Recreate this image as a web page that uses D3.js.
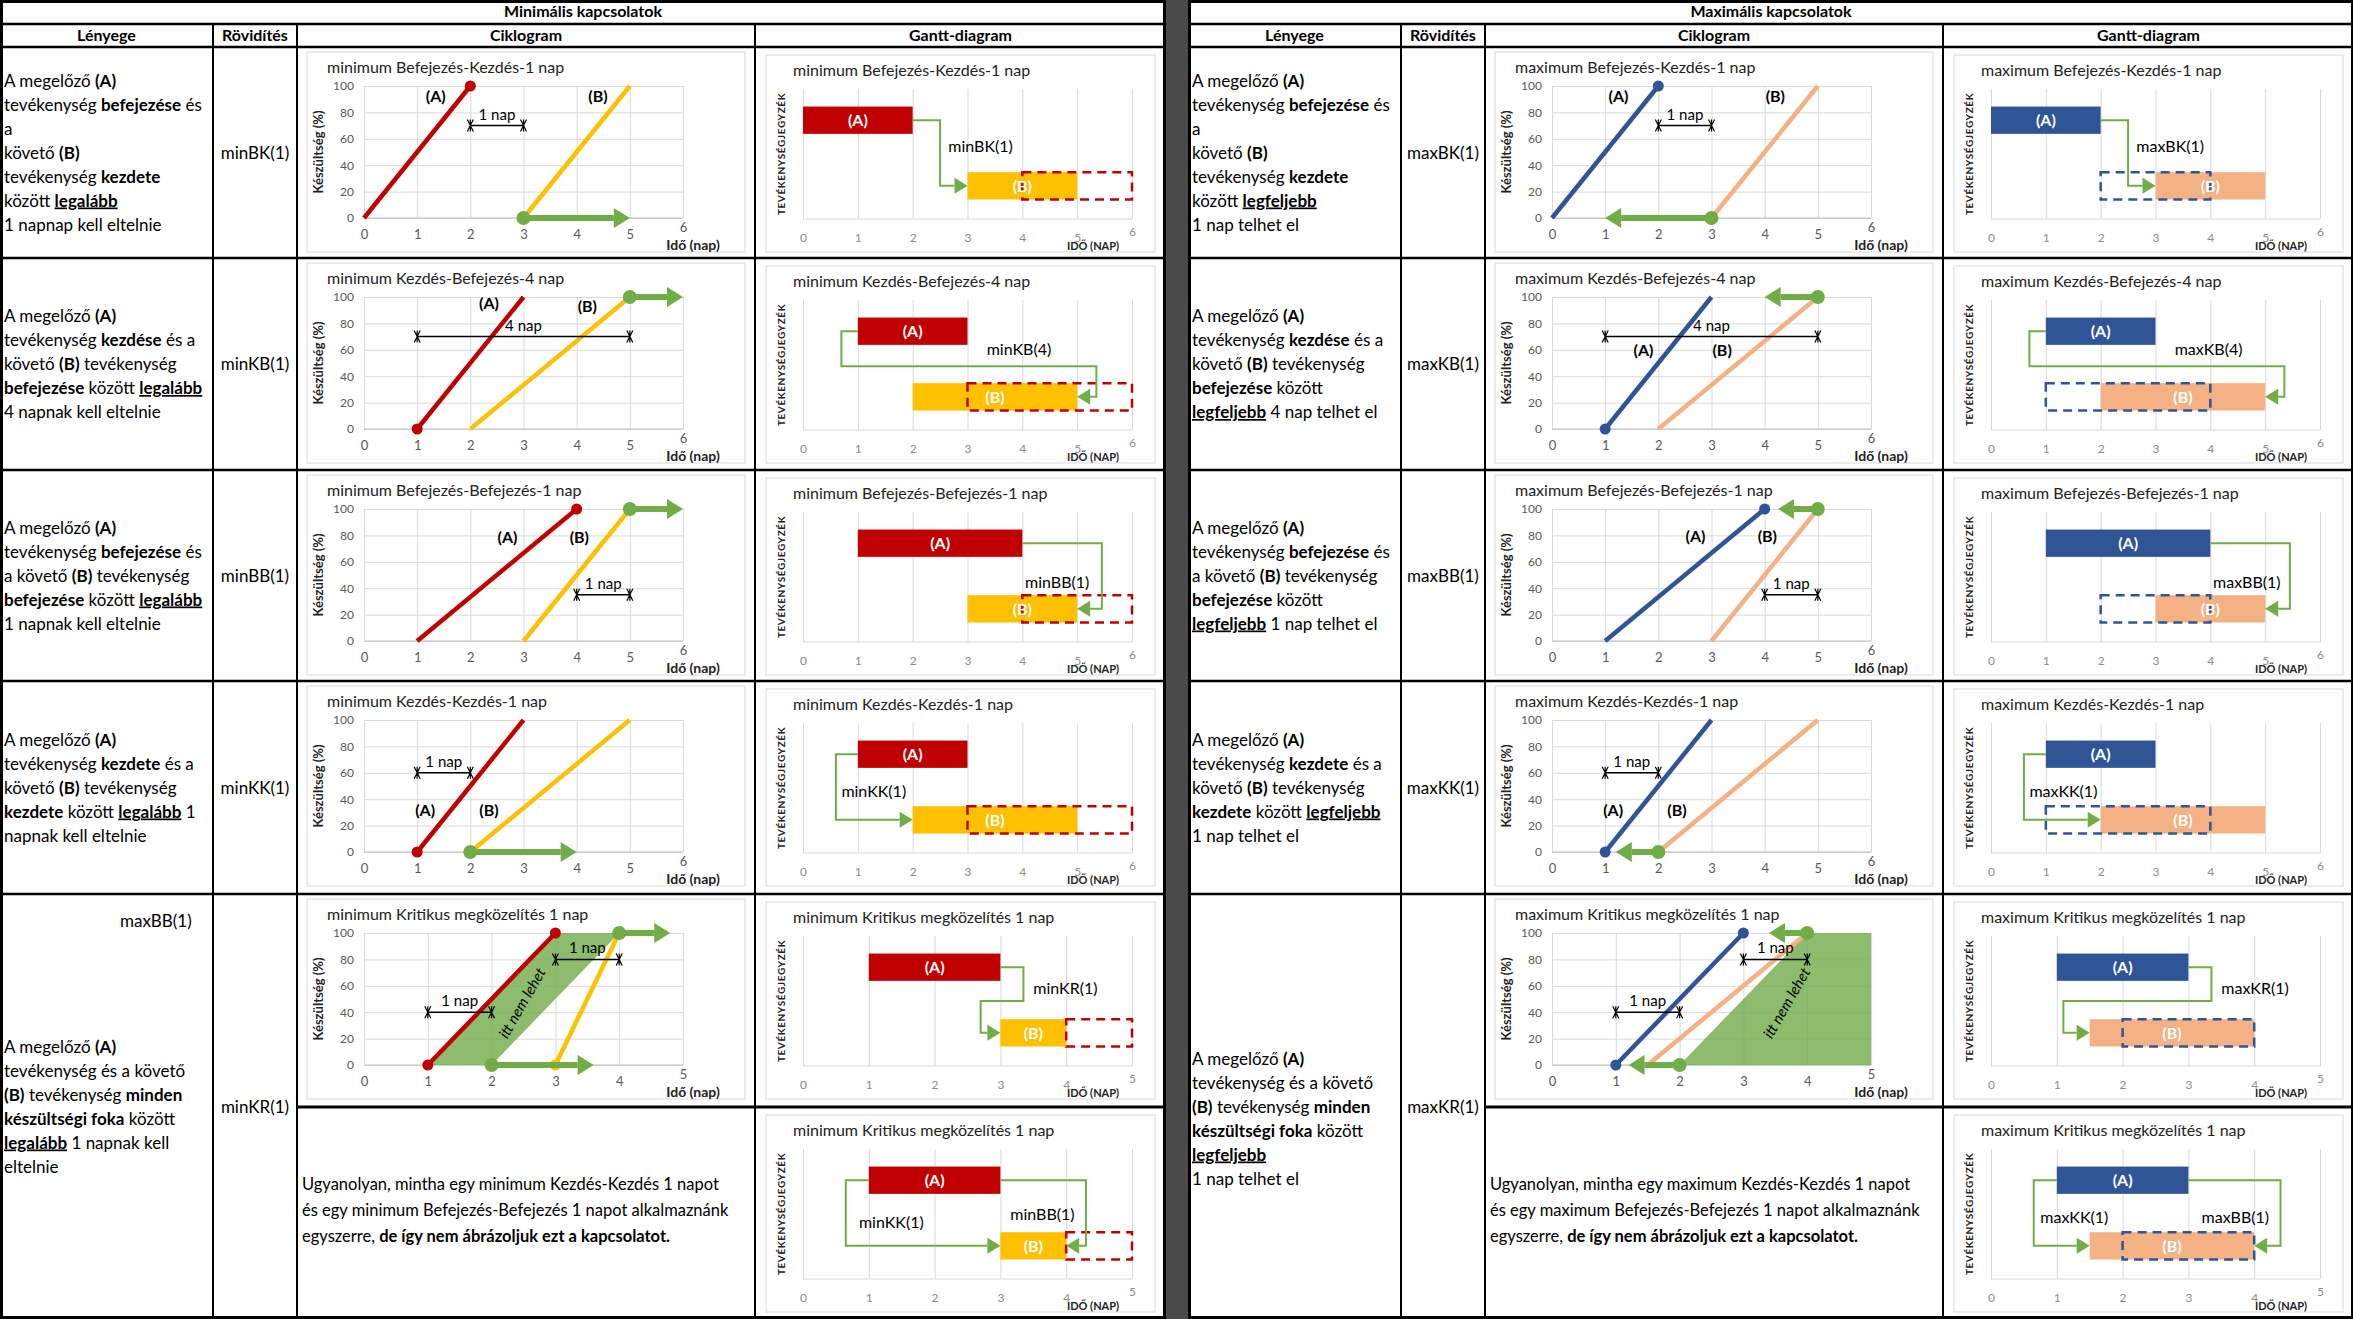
<!DOCTYPE html>
<html><head><meta charset="utf-8">
<script src="https://cdn.jsdelivr.net/npm/d3@7"></script>
<style>
body{margin:0;background:#fff;}
text{font-family:Lato,"Open Sans",sans-serif;}
</style></head>
<body><div id="vis"></div>
<script>
// ---- data ----
var sideTitles = ["Minimális kapcsolatok", "Maximális kapcsolatok"];
var headers = ["Lényege", "Rövidítés", "Ciklogram", "Gantt-diagram"];
var abbrevs = [["minBK(1)", "minKB(1)", "minBB(1)", "minKK(1)", "minKR(1)"],
               ["maxBK(1)", "maxKB(1)", "maxBB(1)", "maxKK(1)", "maxKR(1)"]];
var descriptions = [[
  ["A megelőző **(A)**", "tevékenység **befejezése** és", "a", "követő **(B)**", "tevékenység **kezdete**", "között __legalább__", "1 napnap kell eltelnie"],
  ["A megelőző **(A)**", "tevékenység **kezdése** és a", "követő **(B)** tevékenység", "**befejezése** között __legalább__", "4 napnak kell eltelnie"],
  ["A megelőző **(A)**", "tevékenység **befejezése** és", "a követő **(B)** tevékenység", "**befejezése** között __legalább__", "1 napnak kell eltelnie"],
  ["A megelőző **(A)**", "tevékenység **kezdete** és a", "követő **(B)** tevékenység", "**kezdete** között __legalább__ 1", "napnak kell eltelnie"],
  ["A megelőző **(A)**", "tevékenység és a követő", "**(B)** tevékenység **minden**", "**készültségi foka** között", "__legalább__ 1 napnak kell", "eltelnie"]
], [
  ["A megelőző **(A)**", "tevékenység **befejezése** és", "a", "követő **(B)**", "tevékenység **kezdete**", "között __legfeljebb__", "1 nap telhet el"],
  ["A megelőző **(A)**", "tevékenység **kezdése** és a", "követő **(B)** tevékenység", "**befejezése** között", "__legfeljebb__ 4 nap telhet el"],
  ["A megelőző **(A)**", "tevékenység **befejezése** és", "a követő **(B)** tevékenység", "**befejezése** között", "__legfeljebb__ 1 nap telhet el"],
  ["A megelőző **(A)**", "tevékenység **kezdete** és a", "követő **(B)** tevékenység", "**kezdete** között __legfeljebb__", "1 nap telhet el"],
  ["A megelőző **(A)**", "tevékenység és a követő", "**(B)** tevékenység **minden**", "**készültségi foka** között", "__legfeljebb__", "1 nap telhet el"]
]];
var sameAsText = [
  ["Ugyanolyan, mintha egy minimum Kezdés-Kezdés 1 napot", "és egy minimum Befejezés-Befejezés 1 napot alkalmaznánk", "egyszerre, **de így nem ábrázoljuk ezt a kapcsolatot.**"],
  ["Ugyanolyan, mintha egy maximum Kezdés-Kezdés 1 napot", "és egy maximum Befejezés-Befejezés 1 napot alkalmaznánk", "egyszerre, **de így nem ábrázoljuk ezt a kapcsolatot.**"]
];
var relNames = ["Befejezés-Kezdés-1 nap", "Kezdés-Befejezés-4 nap", "Befejezés-Befejezés-1 nap", "Kezdés-Kezdés-1 nap", "Kritikus megközelítés 1 nap", "Kritikus megközelítés 1 nap"];
var sidePrefix = ["minimum ", "maximum "];
var colorA = ["#C00000", "#2F5597"];
var colorB = ["#FFC000", "#F4B183"];
var green = "#70AD47";

// ciklogram (per side, per row)
var cycloMax = [6, 6, 6, 6, 5];
var lineA = [[[0, 2], [1, 3], [1, 4], [1, 3], [1, 3]], [[0, 2], [1, 3], [1, 4], [1, 3], [1, 3]]];
var lineB = [[[3, 5], [2, 5], [3, 5], [2, 5], [3, 4]], [[3, 5], [2, 5], [3, 5], [2, 5], [1.5, 4]]];
var dotsA = [[["end"], ["start"], ["end"], ["start"], ["start", "end"]], [["end"], ["start"], ["end"], ["start"], ["start", "end"]]];
var dotsB = [[[], [], [], [], ["start"]], [[], [], [], [], []]];
// green arrows: [from(dot), to(head), progress]
var greenArrows = [
  [[[3, 5, 0]], [[5, 6, 100]], [[5, 6, 100]], [[2, 4, 0]], [[2, 3.6, 0], [4, 4.8, 100]]],
  [[[3, 1, 0]], [[5, 4, 100]], [[5, 4.25, 100]], [[2, 1.2, 0]], [[2, 1.2, 0], [4, 3.4, 100]]]
];
// brackets: [x0, x1, progress]
var brackets = [
  [[[2, 3, 70]], [[1, 5, 70]], [[4, 5, 35]], [[1, 2, 60]], [[1, 2, 40], [3, 4, 80]]],
  [[[2, 3, 70]], [[1, 5, 70]], [[4, 5, 35]], [[1, 2, 60]], [[1, 2, 40], [3, 4, 80]]]
];
var bracketLabels = [["1 nap", "4 nap", "1 nap", "1 nap", "1 nap"], ["1 nap", "4 nap", "1 nap", "1 nap", "1 nap"]];
// (A),(B) label anchors
var abLabels = [
  [[[1.35, 88], [4.4, 88]], [[2.35, 91], [4.2, 89]], [[2.7, 74], [4.05, 74]], [[1.15, 27], [2.35, 27]], []],
  [[[1.25, 88], [4.2, 88]], [[1.72, 55], [3.2, 55]], [[2.7, 75], [4.05, 75]], [[1.15, 27], [2.35, 27]], []]
];
var forbiddenZones = [
  [null, null, null, null, [[1, 0], [3, 100], [4, 100], [2, 0]]],
  [null, null, null, null, [[2, 0], [4, 100], [5, 100], [5, 0]]]
];
var zoneText = [[null, null, null, null, [2.55, 45]], [null, null, null, null, [3.75, 45]]];

// gantt (per side, 6 charts)
var ganttMax = [6, 6, 6, 6, 5, 5];
var barA = [[[0, 2], [1, 3], [1, 4], [1, 3], [1, 3], [1, 3]], [[0, 2], [1, 3], [1, 4], [1, 3], [1, 3], [1, 3]]];
var barB = [[[3, 5], [2, 5], [3, 5], [2, 5], [3, 4], [3, 4]], [[3, 5], [2, 5], [3, 5], [2, 5], [1.5, 4], [1.5, 4]]];
var barBDashed = [[[4, 6], [3, 6], [4, 6], [3, 6], [4, 5], [4, 5]], [[2, 4], [1, 4], [2, 4], [1, 4], [2, 4], [2, 4]]];
// link points: [time, level] with level "A", "B" or a fraction of plot height
var links = [[
  [[[2, "A"], [2.5, "A"], [2.5, "B"], [3, "B"]]],
  [[[1, "A"], [0.7, "A"], [0.7, 0.51], [5.35, 0.51], [5.35, "B"], [5, "B"]]],
  [[[4, "A"], [5.45, "A"], [5.45, "B"], [5, "B"]]],
  [[[1, "A"], [0.6, "A"], [0.6, "B"], [2, "B"]]],
  [[[3, "A"], [3.35, "A"], [3.35, 0.5], [2.7, 0.5], [2.7, "B"], [3, "B"]]],
  [[[1, "A"], [0.65, "A"], [0.65, "B"], [3, "B"]], [[3, "A"], [4.3, "A"], [4.3, "B"], [4, "B"]]]
], [
  [[[2, "A"], [2.5, "A"], [2.5, "B"], [3, "B"]]],
  [[[1, "A"], [0.7, "A"], [0.7, 0.51], [5.35, 0.51], [5.35, "B"], [5, "B"]]],
  [[[4, "A"], [5.45, "A"], [5.45, "B"], [5, "B"]]],
  [[[1, "A"], [0.6, "A"], [0.6, "B"], [2, "B"]]],
  [[[3, "A"], [3.35, "A"], [3.35, 0.5], [1.1, 0.5], [1.1, "B"], [1.5, "B"]]],
  [[[1, "A"], [0.65, "A"], [0.65, "B"], [1.5, "B"]], [[3, "A"], [4.4, "A"], [4.4, "B"], [4, "B"]]]
]];
var linkLabels = [[
  [["minBK(1)", 2.65, 0.44]], [["minKB(4)", 3.35, 0.38]], [["minBB(1)", 4.05, 0.54]], [["minKK(1)", 0.7, 0.52]],
  [["minKR(1)", 3.5, 0.4]], [["minKK(1)", 0.85, 0.56], ["minBB(1)", 3.15, 0.5]]
], [
  [["maxBK(1)", 2.65, 0.44]], [["maxKB(4)", 3.35, 0.38]], [["maxBB(1)", 4.05, 0.54]], [["maxKK(1)", 0.7, 0.52]],
  [["maxKR(1)", 3.5, 0.4]], [["maxKK(1)", 0.75, 0.52], ["maxBB(1)", 3.2, 0.52]]
]];

// ---- layout ----
var W = 2353, H = 1319;
var sideX = [0, 1188];
var colOff = [0, 213, 297, 755, 1166];
var rowY = [47, 258, 470, 681, 894, 1107, 1319];

var svg = d3.select("#vis").append("svg").attr("width", W).attr("height", H);
svg.append("rect").attr("width", W).attr("height", H).attr("fill", "#fff");
svg.append("rect").attr("x", 1166).attr("y", 0).attr("width", 22).attr("height", H).attr("fill", "#4a4a4a");

function richText(g, lines, x, y0, lh, size, anchor) {
  lines.forEach(function (line, i) {
    var t = g.append("text").attr("x", x).attr("y", y0 + i * lh)
      .attr("font-size", size).attr("fill", "#000").attr("text-anchor", anchor || "start");
    line.split(/(\*\*[^*]+\*\*|__[^_]+__)/).forEach(function (seg) {
      if (!seg) return;
      var s = t.append("tspan");
      if (seg.indexOf("**") === 0) s.attr("font-weight", "bold").text(seg.slice(2, -2));
      else if (seg.indexOf("__") === 0) s.attr("font-weight", "bold").attr("text-decoration", "underline").text(seg.slice(2, -2));
      else s.text(seg);
    });
  });
}

function xMark(g, x, y) {
  g.append("path").attr("d", "M" + (x - 3) + "," + (y - 6) + "L" + (x + 3) + "," + (y + 6) + "M" + (x + 3) + "," + (y - 6) + "L" + (x - 3) + "," + (y + 6) + "M" + x + "," + (y - 6) + "L" + x + "," + (y + 6))
    .attr("stroke", "#000").attr("stroke-width", 1.2);
}

function thickArrow(g, x1, x2, y, col) {
  var dir = x2 > x1 ? 1 : -1, hl = 16;
  g.append("line").attr("x1", x1).attr("x2", x2 - dir * hl).attr("y1", y).attr("y2", y)
    .attr("stroke", col).attr("stroke-width", 6);
  g.append("path").attr("d", "M" + x2 + "," + y + "L" + (x2 - dir * hl) + "," + (y - 10) + "L" + (x2 - dir * hl) + "," + (y + 10) + "Z").attr("fill", col);
  g.append("circle").attr("cx", x1).attr("cy", y).attr("r", 7).attr("fill", col);
}

function drawCyclo(side, r) {
  var cx = sideX[side] + colOff[2], cy = rowY[r];
  var g = svg.append("g");
  g.append("rect").attr("x", cx + 10).attr("y", cy + 5).attr("width", 438).attr("height", 200)
    .attr("fill", "#fff").attr("stroke", "#d9d9d9");
  g.append("text").attr("x", cx + 30).attr("y", cy + 26).attr("font-size", 16).attr("fill", "#222")
    .text(sidePrefix[side] + relNames[r]);
  var x = d3.scaleLinear().domain([0, cycloMax[r]]).range([cx + 67, cx + 386]);
  var y = d3.scaleLinear().domain([0, 100]).range([cy + 171, cy + 39]);
  var pg = g.append("g");
  pg.append("g").attr("transform", "translate(0," + y(0) + ")")
    .call(d3.axisBottom(x).ticks(cycloMax[r]).tickSize(-(y(0) - y(100))).tickPadding(12).tickFormat(d3.format("d")))
    .call(function (a) { a.select(".domain").remove(); a.selectAll("line").attr("stroke", "#d9d9d9");
      a.selectAll("text").attr("fill", "#595959").attr("font-size", 13); });
  pg.append("g").attr("transform", "translate(" + x(0) + ",0)")
    .call(d3.axisLeft(y).tickValues([0, 20, 40, 60, 80, 100]).tickSize(-(x(cycloMax[r]) - x(0))).tickPadding(10))
    .call(function (a) { a.select(".domain").remove(); a.selectAll("line").attr("stroke", "#d9d9d9");
      a.selectAll("text").attr("fill", "#595959").attr("font-size", 12); });
  pg.append("line").attr("x1", x(0)).attr("x2", x(cycloMax[r])).attr("y1", y(0)).attr("y2", y(0)).attr("stroke", "#bfbfbf");
  pg.selectAll(".tick text").filter(function (d) { return d === cycloMax[r]; }).attr("y", 5);
  g.append("text").attr("transform", "translate(" + (cx + 26) + "," + ((y(0) + y(100)) / 2) + ") rotate(-90)")
    .attr("text-anchor", "middle").attr("font-size", 13).attr("font-weight", "bold").attr("fill", "#222")
    .attr("font-family", "'Open Sans',sans-serif").text("Készültség (%)");
  g.append("text").attr("x", cx + 396).attr("y", cy + 203).attr("text-anchor", "middle")
    .attr("font-size", 14).attr("font-weight", "bold").attr("fill", "#222").text("Idő (nap)");

  var zone = forbiddenZones[side][r];
  if (zone) {
    g.append("path").attr("d", d3.line().x(function (d) { return x(d[0]); }).y(function (d) { return y(d[1]); })(zone) + "Z")
      .attr("fill", green).attr("opacity", 0.8);
    var zt = zoneText[side][r];
    g.append("text").attr("transform", "translate(" + x(zt[0]) + "," + y(zt[1]) + ") rotate(-60)")
      .attr("text-anchor", "middle").attr("font-size", 15).attr("font-style", "italic").attr("fill", "#000")
      .attr("font-family", "'Liberation Sans',sans-serif").text("itt nem lehet");
  }
  [[lineA, colorA, dotsA], [lineB, colorB, dotsB]].forEach(function (def) {
    var seg = def[0][side][r], col = def[1][side];
    g.append("line").attr("x1", x(seg[0])).attr("y1", y(0)).attr("x2", x(seg[1])).attr("y2", y(100))
      .attr("stroke", col).attr("stroke-width", 4.5);
    def[2][side][r].forEach(function (w) {
      var px = w === "start" ? x(seg[0]) : x(seg[1]), py = w === "start" ? y(0) : y(100);
      g.append("circle").attr("cx", px).attr("cy", py).attr("r", 5.5).attr("fill", col);
    });
  });
  greenArrows[side][r].forEach(function (a) { thickArrow(g, x(a[0]), x(a[1]), y(a[2]), green); });
  brackets[side][r].forEach(function (b) {
    g.append("line").attr("x1", x(b[0])).attr("x2", x(b[1])).attr("y1", y(b[2])).attr("y2", y(b[2])).attr("stroke", "#000").attr("stroke-width", 1.5);
    xMark(g, x(b[0]), y(b[2])); xMark(g, x(b[1]), y(b[2]));
    g.append("text").attr("x", (x(b[0]) + x(b[1])) / 2).attr("y", y(b[2]) - 6).attr("text-anchor", "middle")
      .attr("font-size", 15).attr("fill", "#000").text(bracketLabels[side][r]);
  });
  abLabels[side][r].forEach(function (p, i) {
    g.append("text").attr("x", x(p[0])).attr("y", y(p[1])).attr("text-anchor", "middle")
      .attr("font-size", 16).attr("font-weight", "bold").attr("fill", "#000").text(i === 0 ? "(A)" : "(B)");
  });
}

function drawGantt(side, k) {
  var cx = sideX[side] + colOff[3], cy = rowY[k];
  var g = svg.append("g");
  g.append("rect").attr("x", cx + 11).attr("y", cy + 8).attr("width", 389).attr("height", 197)
    .attr("fill", "#fff").attr("stroke", "#d9d9d9");
  g.append("text").attr("x", cx + 38).attr("y", cy + 29).attr("font-size", 16).attr("fill", "#222")
    .text(sidePrefix[side] + relNames[k]);
  var x = d3.scaleLinear().domain([0, ganttMax[k]]).range([cx + 48, cx + 377]);
  var y = d3.scaleLinear().domain([0, 1]).range([cy + 42, cy + 172]);
  g.append("g").attr("transform", "translate(0," + y(1) + ")")
    .call(d3.axisBottom(x).ticks(ganttMax[k]).tickSize(-(y(1) - y(0))).tickPadding(14).tickFormat(d3.format("d")))
    .call(function (a) { a.select(".domain").remove(); a.selectAll("line").attr("stroke", "#d9d9d9");
      a.selectAll("text").attr("fill", "#8c8c8c").attr("font-size", 12);
      a.selectAll(".tick text").filter(function (d) { return d === ganttMax[k]; }).attr("y", 8); });
  g.append("line").attr("x1", x(0)).attr("x2", x(ganttMax[k])).attr("y1", y(1)).attr("y2", y(1)).attr("stroke", "#d9d9d9");
  g.append("text").attr("x", cx + 338).attr("y", cy + 203).attr("text-anchor", "middle")
    .attr("font-size", 11).attr("font-weight", "bold").attr("fill", "#222").text("IDŐ (NAP)");
  g.append("text").attr("transform", "translate(" + (cx + 30) + "," + y(0.5) + ") rotate(-90)")
    .attr("text-anchor", "middle").attr("font-size", 10).attr("font-weight", "bold").attr("fill", "#222")
    .attr("letter-spacing", 0.6).attr("font-family", "'Open Sans',sans-serif").text("TEVÉKENYSÉGJEGYZÉK");
  var lvl = { A: 0.24, B: 0.745 }, bh = 0.21;
  var a = barA[side][k], b = barB[side][k], bd = barBDashed[side][k];
  g.append("rect").attr("x", x(a[0])).attr("width", x(a[1]) - x(a[0])).attr("y", y(lvl.A - bh / 2)).attr("height", y(bh) - y(0))
    .attr("fill", colorA[side]);
  g.append("rect").attr("x", x(b[0])).attr("width", x(b[1]) - x(b[0])).attr("y", y(lvl.B - bh / 2)).attr("height", y(bh) - y(0))
    .attr("fill", colorB[side]);
  g.append("rect").attr("x", x(bd[0])).attr("width", x(bd[1]) - x(bd[0])).attr("y", y(lvl.B - bh / 2)).attr("height", y(bh) - y(0))
    .attr("fill", "none").attr("stroke", colorA[side]).attr("stroke-width", 2.5).attr("stroke-dasharray", "9,6");
  g.append("text").attr("x", (x(a[0]) + x(a[1])) / 2).attr("y", y(lvl.A) + 6).attr("text-anchor", "middle")
    .attr("font-size", 16).attr("font-weight", "bold").attr("fill", "#fff").text("(A)");
  g.append("text").attr("x", (x(b[0]) + x(b[1])) / 2).attr("y", y(lvl.B) + 6).attr("text-anchor", "middle")
    .attr("font-size", 16).attr("font-weight", "bold").attr("fill", "#fff").text("(B)");
  links[side][k].forEach(function (pts) {
    var p = pts.map(function (d) { return [x(d[0]), y(typeof d[1] === "string" ? lvl[d[1]] : d[1])]; });
    var last = p[p.length - 1], prev = p[p.length - 2], dir = last[0] > prev[0] ? 1 : -1, hl = 13;
    var body = p.slice(0, -1).concat([[last[0] - dir * hl, last[1]]]);
    g.append("path").attr("d", d3.line()(body)).attr("fill", "none").attr("stroke", green).attr("stroke-width", 2);
    g.append("path").attr("d", "M" + last[0] + "," + last[1] + "L" + (last[0] - dir * hl) + "," + (last[1] - 8) + "L" + (last[0] - dir * hl) + "," + (last[1] + 8) + "Z")
      .attr("fill", green);
  });
  linkLabels[side][k].forEach(function (l) {
    g.append("text").attr("x", x(l[1])).attr("y", y(l[2]) + 6).attr("font-size", 16).attr("fill", "#000").text(l[0]);
  });
}

[0, 1].forEach(function (side) {
  var sx = sideX[side];
  var c = colOff.map(function (o) { return sx + o; });
  var g = svg.append("g");
  g.append("text").attr("x", (c[0] + c[4]) / 2).attr("y", 17).attr("text-anchor", "middle")
    .attr("font-size", 16).attr("font-weight", "bold").text(sideTitles[side]);
  headers.forEach(function (h, i) {
    g.append("text").attr("x", (c[i] + c[i + 1]) / 2).attr("y", 41).attr("text-anchor", "middle")
      .attr("font-size", 16).attr("font-weight", "bold").text(h);
  });
  for (var r = 0; r < 5; r++) {
    var top = rowY[r], bot = r === 4 ? rowY[6] : rowY[r + 1];
    var lines = descriptions[side][r], lh = 24;
    var y0 = (top + bot) / 2 - (lines.length - 1) * lh / 2 + 6;
    if (r === 4 && side === 1) y0 += 12;
    richText(g, lines, c[0] + 4, y0, lh, 17);
    g.append("text").attr("x", (c[1] + c[2]) / 2).attr("y", (top + bot) / 2 + 6).attr("text-anchor", "middle")
      .attr("font-size", 17).text(abbrevs[side][r]);
    drawCyclo(side, r);
  }
  for (var k = 0; k < 6; k++) drawGantt(side, k);
  richText(g, sameAsText[side], c[2] + 5, 1190, 26, 16.5);
  if (side === 0) g.append("text").attr("x", 120).attr("y", 927).attr("font-size", 17).text("maxBB(1)");

  // grid of the table
  var ln = function (x1, y1, x2, y2, w) {
    g.append("line").attr("x1", x1).attr("y1", y1).attr("x2", x2).attr("y2", y2).attr("stroke", "#000").attr("stroke-width", w);
  };
  ln(c[0], 24, c[4], 24, 2.5);
  rowY.forEach(function (yy, i) {
    if (i === 5) ln(c[2], yy, c[4], yy, 3);
    else if (i < 6) ln(c[0], yy, c[4], yy, 2.5);
  });
  [1, 2, 3].forEach(function (i) { ln(c[i], 24, c[i], H, 2); });
  g.append("rect").attr("x", c[0] + 1.5).attr("y", 1.5).attr("width", c[4] - c[0] - 3).attr("height", H - 3)
    .attr("fill", "none").attr("stroke", "#000").attr("stroke-width", 3);
});
</script></body></html>
